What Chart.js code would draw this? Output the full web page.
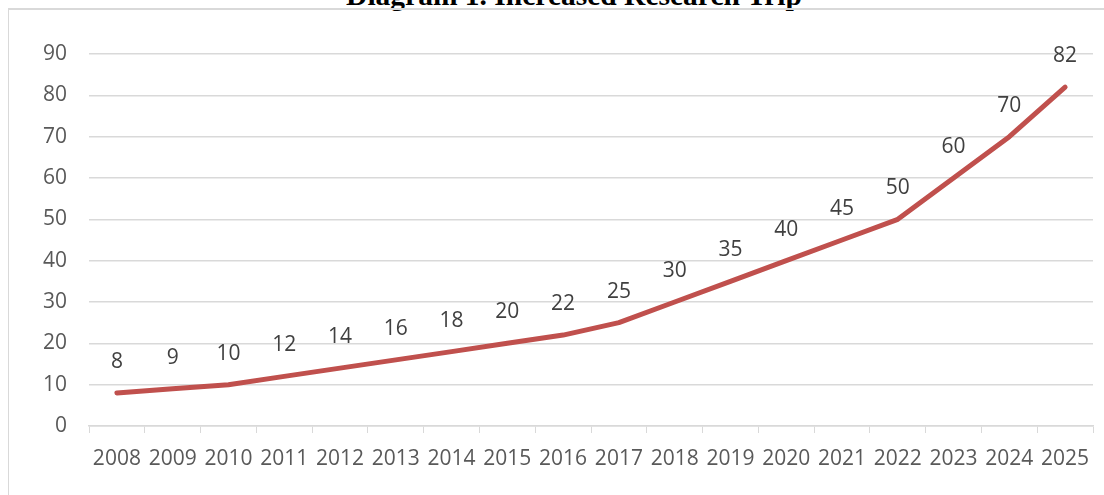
<!DOCTYPE html>
<html>
<head>
<meta charset="utf-8">
<script src="https://cdn.jsdelivr.net/npm/chart.js@4.4.0/dist/chart.umd.min.js"></script>
<style>
  html, body { margin: 0; padding: 0; background: #fff; overflow: hidden; }
  #wrap { position: relative; width: 1104px; height: 495px; overflow: hidden; }
  #title {
    position: absolute; left: 22px; width: 1104px; top: -20px; text-align: center; line-height: 30px;
    font-family: "Liberation Serif", "Times New Roman", serif; font-weight: bold; font-size: 29.5px;
    color: #000; white-space: nowrap;
  }
  #frame {
    position: absolute; left: 8px; top: 8px; width: 1200px; height: 600px;
    border-top: 2px solid #d9d9d9; border-left: 1px solid #d9d9d9;
  }
  #chartBox { position: absolute; left: 0; top: 0; width: 1104px; height: 495px; }
</style>
</head>
<body>
<div id="wrap">
  <div id="title">Diagram 1. Increased Research Trip</div>
  <div id="frame"></div>
  <div id="chartBox"><canvas id="tripChart"></canvas></div>
</div>
<script>
// --- Data ---
const years = ['2008', '2009', '2010', '2011', '2012', '2013', '2014', '2015', '2016',
               '2017', '2018', '2019', '2020', '2021', '2022', '2023', '2024', '2025'];
const trips = [8, 9, 10, 12, 14, 16, 18, 20, 22, 25, 30, 35, 40, 45, 50, 60, 70, 82];
const yTicks = [0, 10, 20, 30, 40, 50, 60, 70, 80, 90];

const font = '"Open Sans", "Noto Sans", sans-serif';

// draws the value above each point (like Excel data labels)
const valueLabels = {
    id: 'valueLabels',
    afterDatasetsDraw(chart) {
        const c = chart.ctx;
        const meta = chart.getDatasetMeta(0);
        c.save();
        c.font = '21px ' + font;
        c.fillStyle = '#404040';
        c.textAlign = 'center';
        c.textBaseline = 'middle';
        meta.data.forEach((pt, i) => {
            c.fillText(String(trips[i]), pt.x, pt.y - 31);
        });
        c.restore();
    }
};

const ctx = document.getElementById('tripChart').getContext('2d');
new Chart(ctx, {
    type: 'line',
    data: {
        labels: years,
        datasets: [{
            data: trips,
            borderColor: '#c0504d',
            borderWidth: 5,
            borderCapStyle: 'round',
            borderJoinStyle: 'round',
            pointRadius: 0,
            tension: 0
        }]
    },
    options: {
        responsive: true,
        maintainAspectRatio: false,
        animation: false,
        layout: { padding: { left: 0, right: 11, top: 54, bottom: 0 } },
        plugins: { legend: { display: false }, tooltip: { enabled: false } },
        scales: {
            x: {
                offset: true,
                afterFit(scale) { scale.height = 69; },
                grid: {
                    offset: true, drawOnChartArea: false, drawTicks: true,
                    tickLength: 7, color: '#d9d9d9'
                },
                border: { color: '#d9d9d9', width: 1.5 },
                ticks: { color: '#595959', font: { family: font, size: 21 }, padding: 13, maxRotation: 0, autoSkip: false }
            },
            y: {
                min: 0,
                max: 90,
                afterFit(scale) { scale.width = 89; },
                afterBuildTicks(scale) { scale.ticks = yTicks.map(v => ({ value: v })); },
                grid: { color: '#d9d9d9', lineWidth: 1.5, drawTicks: false },
                border: { display: false },
                ticks: { color: '#595959', font: { family: font, size: 21 }, padding: 22 }
            }
        }
    },
    plugins: [valueLabels]
});
</script>
</body>
</html>
